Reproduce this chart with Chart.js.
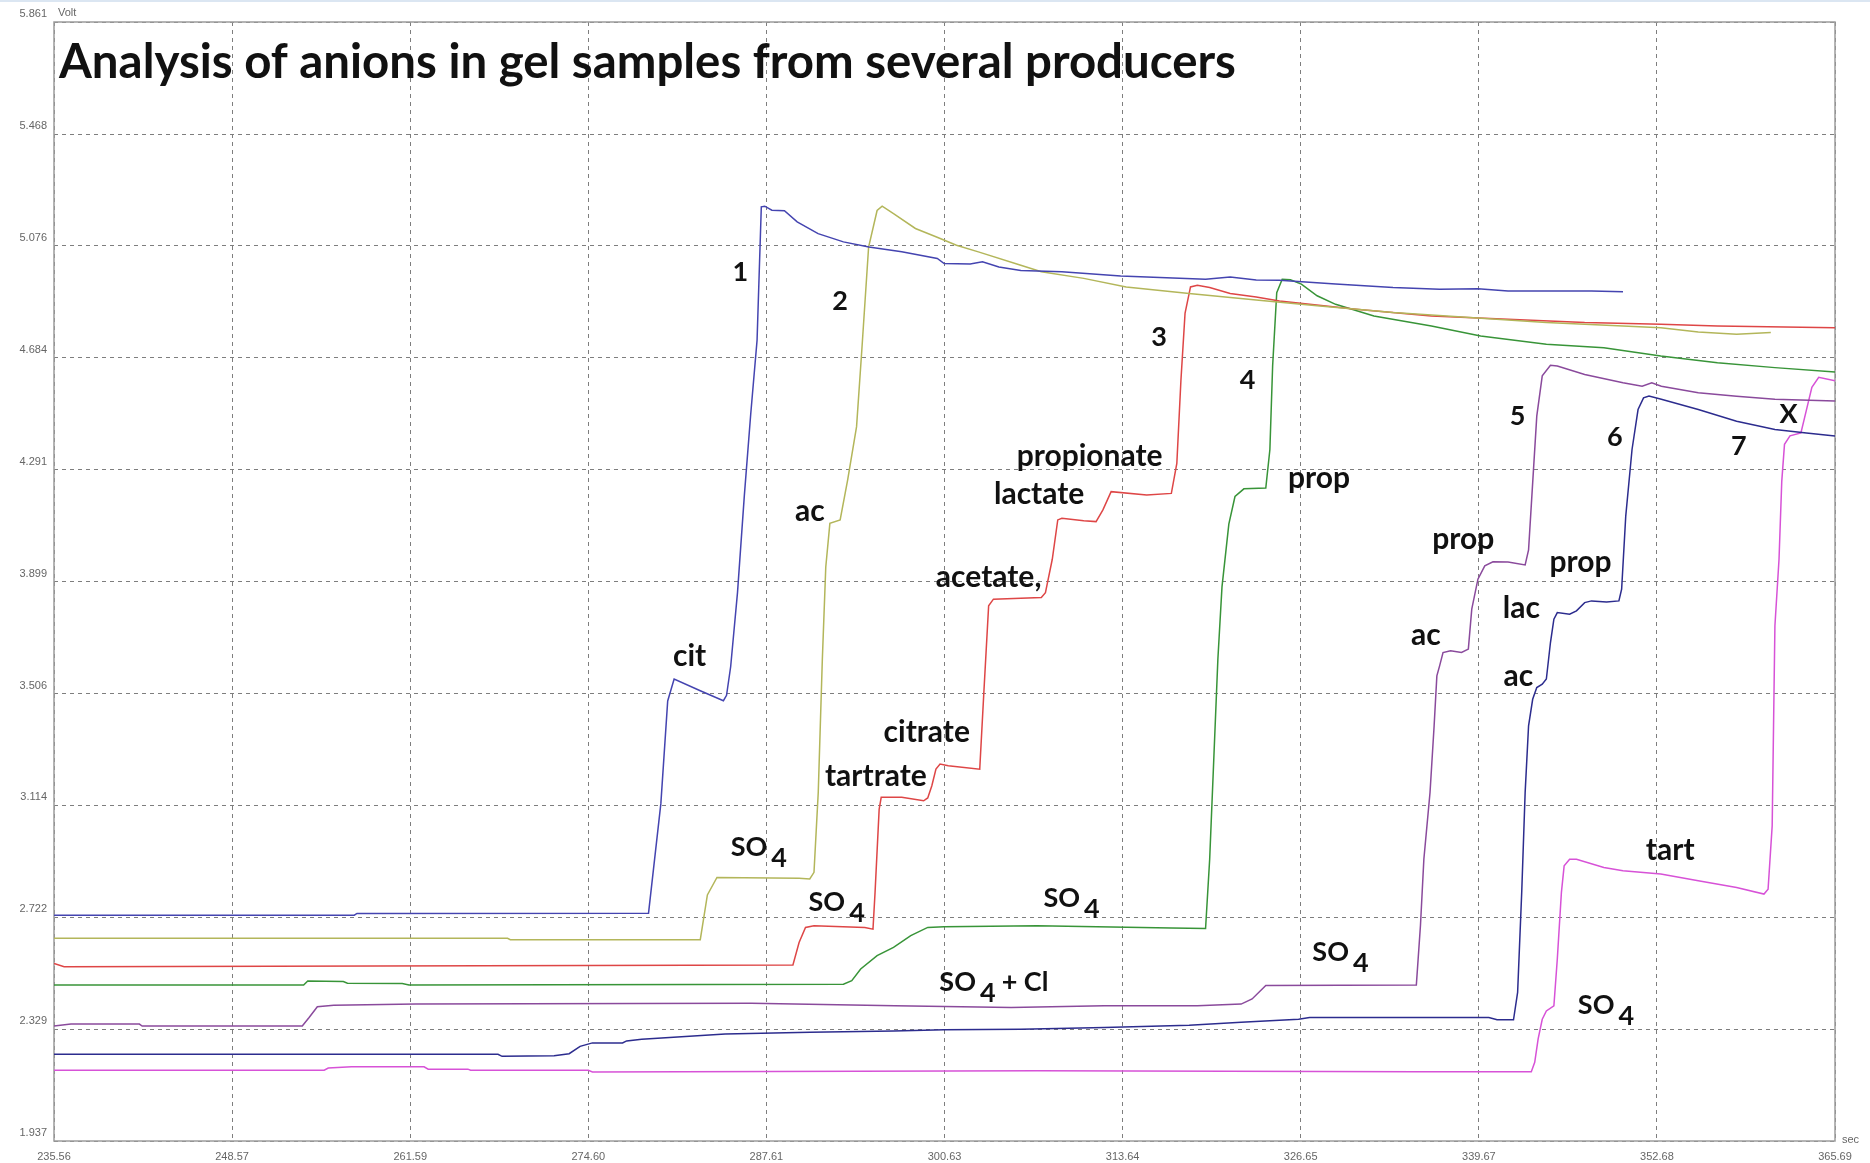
<!DOCTYPE html>
<html>
<head>
<meta charset="utf-8">
<title>Analysis of anions in gel samples from several producers</title>
<script src="https://cdn.jsdelivr.net/npm/chart.js@4"></script>
<style>
  html, body { margin: 0; padding: 0; background: #fff; }
  canvas { display: block; }
</style>
</head>
<body>
<canvas id="chart" width="1870" height="1163"></canvas>
<script>
// Isotachophoresis records of seven gel samples: detector signal (Volt) over time (sec).

const xTickLabels = ["235.56", "248.57", "261.59", "274.60", "287.61", "300.63", "313.64", "326.65", "339.67", "352.68", "365.69"];
const yTickLabels = ["1.937", "2.329", "2.722", "3.114", "3.506", "3.899", "4.291", "4.684", "5.076", "5.468", "5.861"];

// sample 1
const t1 = [235.56, 257.5, 257.7, 279.0, 279.9, 280.4, 280.87, 282.78, 284.47, 284.7, 285.0, 285.5, 286.0, 286.47, 286.93, 287.24, 287.49, 288.01, 288.93, 289.86, 291.39, 293.24, 295.1, 297.5, 300.1, 300.6, 302.5, 303.4, 304.6, 306.2, 309.2, 313.5, 319.7, 321.5, 323.4, 325.1, 329.2, 333.4, 336.8, 339.6, 341.8, 347.9, 350.2];
const v1 = [2.729, 2.729, 2.735, 2.736, 3.12, 3.48, 3.557, 3.516, 3.481, 3.50, 3.60, 3.86, 4.20, 4.488, 4.745, 5.213, 5.215, 5.201, 5.199, 5.16, 5.119, 5.09, 5.072, 5.055, 5.032, 5.014, 5.012, 5.02, 5.002, 4.99, 4.985, 4.97, 4.959, 4.967, 4.956, 4.955, 4.942, 4.93, 4.924, 4.926, 4.918, 4.918, 4.915];

// sample 2
const t2 = [235.56, 268.7, 268.9, 282.78, 283.3, 284.0, 290.0, 290.78, 291.09, 291.4, 291.7, 291.95, 292.25, 293.0, 293.55, 294.2, 294.6, 295.08, 295.7, 296.07, 296.9, 298.5, 300.0, 301.5, 303.1, 306.2, 307.7, 310.8, 313.9, 318.5, 323.4, 327.85, 333.4, 339.0, 344.6, 350.2, 352.96, 355.7, 358.5, 361.0];
const v2 = [2.648, 2.648, 2.643, 2.643, 2.80, 2.861, 2.858, 2.856, 2.879, 3.159, 3.627, 3.95, 4.103, 4.115, 4.255, 4.442, 4.722, 5.072, 5.2, 5.215, 5.189, 5.137, 5.108, 5.078, 5.055, 5.008, 4.985, 4.962, 4.932, 4.909, 4.886, 4.866, 4.842, 4.825, 4.807, 4.795, 4.789, 4.774, 4.766, 4.772];

// sample 3
const t3 = [235.56, 236.3, 289.55, 290.0, 290.47, 291.09, 294.8, 295.4, 295.55, 295.85, 296.0, 297.5, 299.1, 299.4, 299.7, 300.0, 300.3, 300.9, 303.2, 303.5, 303.85, 304.2, 307.7, 308.0, 308.5, 308.9, 309.2, 310.8, 311.7, 312.2, 312.8, 315.4, 317.2, 317.6, 317.9, 318.2, 318.6, 319.1, 320.0, 321.5, 323.4, 325.1, 330.7, 336.2, 341.8, 347.4, 352.96, 357.1, 365.69];
const v3 = [2.560, 2.548, 2.554, 2.633, 2.686, 2.692, 2.686, 2.680, 2.808, 3.100, 3.142, 3.142, 3.130, 3.140, 3.183, 3.241, 3.259, 3.253, 3.241, 3.510, 3.814, 3.837, 3.843, 3.860, 3.977, 4.115, 4.121, 4.112, 4.109, 4.150, 4.214, 4.202, 4.208, 4.313, 4.605, 4.839, 4.932, 4.938, 4.930, 4.909, 4.897, 4.883, 4.854, 4.830, 4.819, 4.807, 4.801, 4.795, 4.789];

// sample 4
const t4 = [235.56, 253.8, 254.1, 256.7, 257.0, 261.0, 261.5, 293.24, 293.85, 294.5, 295.7, 296.9, 298.16, 299.4, 300.6, 307.4, 317.2, 319.7, 320.0, 320.3, 320.6, 320.9, 321.4, 321.85, 322.5, 324.1, 324.4, 324.6, 324.9, 325.3, 325.9, 326.7, 327.85, 329.2, 332.0, 336.2, 339.8, 344.6, 348.8, 352.96, 357.1, 361.3, 365.69];
const v4 = [2.484, 2.484, 2.498, 2.496, 2.490, 2.489, 2.484, 2.487, 2.499, 2.540, 2.587, 2.616, 2.657, 2.686, 2.688, 2.692, 2.684, 2.682, 2.925, 3.276, 3.627, 3.880, 4.100, 4.197, 4.224, 4.227, 4.362, 4.655, 4.912, 4.959, 4.957, 4.942, 4.901, 4.871, 4.830, 4.795, 4.760, 4.731, 4.719, 4.690, 4.666, 4.649, 4.634];

// sample 5
const t5 = [235.56, 236.8, 241.8, 242.0, 253.7, 254.2, 254.8, 256.0, 262.0, 286.5, 297.0, 305.5, 312.3, 319.1, 322.3, 323.1, 324.1, 335.1, 335.4, 335.65, 336.1, 336.4, 336.6, 336.8, 337.05, 337.6, 338.4, 338.9, 339.15, 339.6, 340.1, 340.7, 341.8, 343.05, 343.3, 343.6, 343.9, 344.3, 344.9, 345.4, 347.4, 350.2, 351.6, 352.3, 353.0, 355.7, 358.5, 361.3, 365.69];
const v5 = [2.340, 2.347, 2.347, 2.340, 2.340, 2.370, 2.408, 2.413, 2.417, 2.420, 2.411, 2.405, 2.411, 2.411, 2.417, 2.435, 2.482, 2.484, 2.692, 2.925, 3.159, 3.393, 3.568, 3.603, 3.650, 3.656, 3.650, 3.662, 3.802, 3.907, 3.954, 3.968, 3.967, 3.957, 4.010, 4.245, 4.479, 4.620, 4.657, 4.655, 4.625, 4.596, 4.584, 4.596, 4.584, 4.561, 4.549, 4.538, 4.532];

// sample 6
const t6 = [235.56, 268.0, 268.3, 272.1, 273.2, 274.0, 274.9, 277.1, 277.4, 278.5, 284.6, 290.8, 296.9, 300.6, 306.2, 312.3, 318.5, 322.3, 326.5, 327.3, 340.4, 341.0, 342.2, 342.5, 342.8, 343.05, 343.3, 343.6, 343.9, 344.3, 344.6, 344.9, 345.15, 345.4, 346.3, 346.8, 347.4, 347.9, 349.0, 349.9, 350.1, 350.4, 350.86, 351.3, 351.7, 352.1, 353.0, 355.7, 358.5, 361.3, 363.6, 365.69];
const v6 = [2.241, 2.241, 2.234, 2.236, 2.243, 2.269, 2.281, 2.281, 2.288, 2.294, 2.312, 2.318, 2.323, 2.327, 2.329, 2.335, 2.343, 2.353, 2.364, 2.370, 2.370, 2.362, 2.362, 2.458, 2.809, 3.159, 3.393, 3.486, 3.527, 3.539, 3.557, 3.685, 3.767, 3.790, 3.784, 3.796, 3.825, 3.831, 3.827, 3.831, 3.872, 4.128, 4.362, 4.502, 4.543, 4.549, 4.538, 4.502, 4.461, 4.432, 4.420, 4.409];

// sample 7
const t7 = [235.56, 255.3, 255.6, 257.3, 262.6, 262.9, 265.8, 266.0, 274.6, 274.9, 307.4, 335.1, 343.5, 343.75, 344.0, 344.3, 344.6, 345.15, 345.4, 345.7, 345.9, 346.3, 346.8, 348.8, 350.2, 352.96, 355.7, 358.5, 360.5, 360.8, 361.1, 361.2, 361.3, 361.6, 361.8, 362.0, 362.4, 363.2, 363.6, 364.0, 364.5, 365.69];
const v7 = [2.185, 2.185, 2.193, 2.197, 2.197, 2.189, 2.189, 2.185, 2.185, 2.179, 2.183, 2.180, 2.180, 2.213, 2.295, 2.364, 2.393, 2.411, 2.575, 2.809, 2.902, 2.925, 2.925, 2.896, 2.885, 2.873, 2.850, 2.826, 2.803, 2.820, 3.042, 3.393, 3.744, 3.977, 4.25, 4.38, 4.41, 4.42, 4.50, 4.58, 4.615, 4.603];

const curveColors = ["#4444b0", "#b3b65a", "#de4646", "#389438", "#8a4a9c", "#2c2c8e", "#d752d7"];

// peak / zone annotations: [text, sec, volt]
const notes = [
  ["1", 285.7, 4.985], ["2", 293.0, 4.88], ["3", 316.3, 4.757], ["4", 322.77, 4.605],
  ["5", 342.5, 4.479], ["6", 349.6, 4.403], ["7", 358.67, 4.374], ["X", 362.3, 4.485],
  ["cit", 282.0, 3.638], ["ac", 290.78, 4.144], ["tartrate", 295.61, 3.215],
  ["citrate", 299.33, 3.371], ["acetate,", 303.85, 3.914], ["lactate", 307.54, 4.206],
  ["propionate", 311.23, 4.339], ["prop", 327.99, 4.262], ["prop", 338.53, 4.046],
  ["ac", 335.8, 3.71], ["lac", 342.77, 3.806], ["ac", 342.55, 3.568],
  ["prop", 347.1, 3.966], ["tart", 353.65, 2.958]
];
// sulfate zone labels: [sec, volt (baseline), trailing text]
const sulfateNotes = [
  [285.0, 2.937, ""], [290.69, 2.744, ""], [307.85, 2.756, ""],
  [300.25, 2.464, "+ Cl"], [327.5, 2.569, ""], [346.9, 2.382, ""]
];

const xTicks = xTickLabels.map(Number);
const yTicks = yTickLabels.map(Number);
const curves = [[t1, v1], [t2, v2], [t3, v3], [t4, v4], [t5, v5], [t6, v6], [t7, v7]];

const WORD_FONT = "bold 30px Lato";
const MARK_FONT = "bold 27px Lato";
const TITLE = "Analysis of anions in gel samples from several producers";

const decor = {
  id: "decor",
  beforeDatasetsDraw(chart) {
    const { ctx, chartArea: a } = chart;
    ctx.save();
    ctx.fillStyle = "#dbe6f2";
    ctx.fillRect(0, 0, chart.width, 2);
    ctx.strokeStyle = "#9c9c9c";
    ctx.lineWidth = 1.5;
    ctx.strokeRect(a.left, a.top, a.right - a.left, a.bottom - a.top);
    ctx.fillStyle = "#666";
    ctx.font = "11px 'Liberation Sans'";
    ctx.textBaseline = "middle";
    ctx.textAlign = "left";
    ctx.fillText("Volt", a.left + 4, a.top - 9);
    ctx.fillText("sec", a.right + 7, a.bottom - 1);
    ctx.restore();
  },
  afterDatasetsDraw(chart) {
    const { ctx, scales: { x, y } } = chart;
    ctx.save();
    ctx.fillStyle = "#111";

    // title, fitted to the width it has in the original print
    ctx.font = "bold 40px Lato";
    const size = 40 * 1178 / ctx.measureText(TITLE).width;
    ctx.font = `bold ${size.toFixed(1)}px Lato`;
    ctx.textAlign = "left";
    ctx.textBaseline = "alphabetic";
    ctx.fillText(TITLE, 59, 78);

    ctx.textAlign = "center";
    ctx.textBaseline = "middle";
    for (const [txt, t, v] of notes) {
      ctx.font = txt.length > 1 ? WORD_FONT : MARK_FONT;
      ctx.fillText(txt, x.getPixelForValue(t), y.getPixelForValue(v));
    }

    ctx.font = MARK_FONT;
    ctx.textAlign = "left";
    ctx.textBaseline = "alphabetic";
    for (const [t, v, tail] of sulfateNotes) {
      let px = x.getPixelForValue(t);
      const py = y.getPixelForValue(v);
      ctx.fillText("SO", px, py);
      px += ctx.measureText("SO").width + 4;
      ctx.fillText("4", px, py + 11);
      if (tail) {
        px += ctx.measureText("4").width + 6;
        ctx.fillText(tail, px, py);
      }
    }
    ctx.restore();
  }
};

new Chart(document.getElementById("chart"), {
  type: "line",
  data: {
    datasets: curves.map(([t, v], i) => ({
      label: "Sample " + (i + 1),
      data: t.map((sec, k) => ({ x: sec, y: v[k] })),
      borderColor: curveColors[i],
      borderWidth: 1.5,
      pointRadius: 0,
      tension: 0,
      fill: false
    }))
  },
  options: {
    responsive: false,
    animation: false,
    devicePixelRatio: 1,
    layout: { padding: { top: 22, right: 35, left: 0, bottom: 0 } },
    plugins: { legend: { display: false }, tooltip: { enabled: false } },
    scales: {
      x: {
        type: "linear",
        min: xTicks[0],
        max: xTicks[xTicks.length - 1],
        afterBuildTicks: (s) => { s.ticks = xTicks.map((value) => ({ value })); },
        afterFit: (s) => { s.height = 22; },
        ticks: {
          autoSkip: false, maxRotation: 0, padding: 9, color: "#666",
          font: { family: "'Liberation Sans'", size: 11 },
          callback: (val, i) => xTickLabels[i]
        },
        grid: { color: "#7e7e7e", lineWidth: 1, drawTicks: false },
        border: { display: false, dash: [4, 4] }
      },
      y: {
        type: "linear",
        min: yTicks[0],
        max: yTicks[yTicks.length - 1],
        afterBuildTicks: (s) => { s.ticks = yTicks.map((value) => ({ value })); },
        afterFit: (s) => { s.width = 54; },
        ticks: {
          autoSkip: false, padding: 7, labelOffset: -8, color: "#666",
          font: { family: "'Liberation Sans'", size: 11 },
          callback: (val, i) => yTickLabels[i]
        },
        grid: { color: "#7e7e7e", lineWidth: 1, drawTicks: false },
        border: { display: false, dash: [4, 4] }
      }
    }
  },
  plugins: [decor]
});
</script>
</body>
</html>
